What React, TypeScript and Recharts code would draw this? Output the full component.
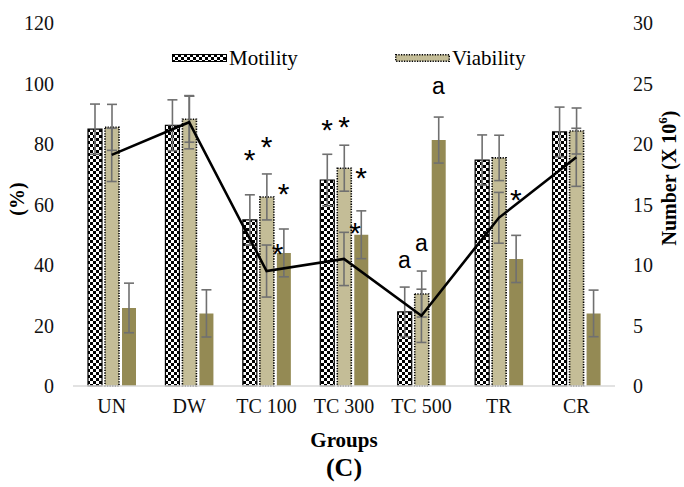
import React from 'react';
import { ComposedChart, Bar, Line, XAxis, YAxis, ErrorBar, ReferenceDot } from 'recharts';

const groups = ['UN', 'DW', 'TC 100', 'TC 300', 'TC 500', 'TR', 'CR'];
const motility = [84.9, 86.2, 54.9, 68.1, 24.5, 74.7, 84.0];
const motilityErr = [8.3, 8.4, 8.3, 8.5, 8.2, 8.3, 8.2];
const viability = [85.5, 88.2, 62.5, 72.0, 30.4, 75.4, 84.3];
const viabilityErr = [7.6, 7.6, 7.6, 7.6, 7.6, 7.5, 7.6];
const abnormal = [25.8, 24.0, 44.0, 50.0, 81.3, 42.0, 24.0];
const abnormalErr = [8.2, 7.8, 7.9, 7.9, 7.6, 7.8, 7.7];
const countNumber = [19.1, 21.8, 9.5, 10.5, 5.8, 13.9, 18.9];
const countErr = [2.2, 2.2, 2.15, 2.2, 2.2, 2.1, 2.4];

const leftTicks = [0, 20, 40, 60, 80, 100, 120];
const rightTicks = [0, 5, 10, 15, 20, 25, 30];

// significance marks: text and the value (left axis) where they sit
const motilityMark = ['', '', '*', '*', 'a', '', ''];
const motilityMarkAt = [0, 0, 77, 87, 41, 0, 0];
const viabilityMark = ['', '', '*', '*', 'a', '', ''];
const viabilityMarkAt = [0, 0, 81.3, 88, 46.6, 0, 0];
const abnormalMark = ['', '', '*', '*', 'a', '*', ''];
const abnormalMarkAt = [0, 0, 65.8, 71, 98.5, 63.8, 0];
const countMark = ['', '', '*', '*', '', '', ''];
const countMarkAt = [0, 0, 46, 53, 0, 0, 0];

const data = groups.map((g, i) => ({
  group: g,
  motility: motility[i],
  motilityErr: motilityErr[i],
  viability: viability[i],
  viabilityErr: viabilityErr[i],
  abnormal: abnormal[i],
  abnormalErr: abnormalErr[i],
  count: countNumber[i],
  countErr: countErr[i],
}));

const SERIF = "'Liberation Serif', 'Times New Roman', serif";
const SANS = "'Liberation Sans', Arial, sans-serif";
const ERR = '#707070';
const TAN = '#C4BD97';
const OLIVE = '#948A54';

const BAR = 14;
const GAP = 3;
const STEP = BAR + GAP;

function markShape(text: string, dx: number) {
  return (props: any) => {
    const { cx, cy } = props;
    const isStar = text === '*';
    const fs = isStar ? 30 : 23;
    const off = isStar ? 0.57 * fs : 0.26 * fs;
    return (
      <text x={cx + dx} y={cy + off} textAnchor="middle" fontFamily={SANS} fontSize={fs} fill="#000">
        {text}
      </text>
    );
  };
}

function marks(texts: string[], at: number[], dx: number, key: string) {
  return texts.map((t, i) =>
    t ? (
      <ReferenceDot
        key={key + i}
        xAxisId="x"
        yAxisId="left"
        x={groups[i]}
        y={at[i]}
        r={0}
        ifOverflow="visible"
        shape={markShape(t, dx)}
      />
    ) : null
  );
}

const tickStyle = { fontFamily: SERIF, fontSize: 20, fill: '#111' };
const legendText: React.CSSProperties = {
  position: 'absolute',
  top: 0,
  lineHeight: '28px',
  fontFamily: SERIF,
  fontSize: 21,
  color: '#000',
  whiteSpace: 'nowrap',
};

export default function App() {
  return (
    <div style={{ position: 'absolute', left: 0, top: 0, width: 684, height: 487, background: '#fff' }}>
      <svg width={0} height={0} style={{ position: 'absolute' }}>
        <defs>
          <pattern id="checker" width={6} height={6} patternUnits="userSpaceOnUse">
            <rect x={0} y={0} width={6} height={6} fill="#fff" />
            <rect x={0} y={0} width={3} height={3} fill="#000" />
            <rect x={3} y={3} width={3} height={3} fill="#000" />
          </pattern>
        </defs>
      </svg>
      <ComposedChart
        width={684}
        height={487}
        data={data}
        margin={{ top: 23, right: 0, bottom: 0, left: 0 }}
        barSize={BAR}
        barGap={GAP}
      >
        <XAxis
          xAxisId="x"
          dataKey="group"
          height={101}
          tickLine={false}
          tickSize={0}
          tickMargin={13}
          axisLine={{ stroke: '#D9D9D9', strokeWidth: 1.5 }}
          tick={tickStyle}
          interval={0}
          label={{
            content: () => (
              <g>
                <text x={344} y={447} textAnchor="middle" fontFamily={SERIF} fontWeight="bold" fontSize={21} fill="#000">
                  Groups
                </text>
                <text x={344} y={476} textAnchor="middle" fontFamily={SERIF} fontWeight="bold" fontSize={26} fill="#000">
                  (C)
                </text>
              </g>
            ),
          }}
        />
        <YAxis
          yAxisId="left"
          orientation="left"
          width={73}
          domain={[0, 120]}
          ticks={leftTicks}
          axisLine={false}
          tickLine={false}
          tickSize={0}
          tickMargin={19}
          tick={tickStyle}
          label={{
            content: () => (
              <text
                x={17}
                y={199}
                transform="rotate(-90 17 199)"
                textAnchor="middle"
                dominantBaseline="central"
                fontFamily={SERIF}
                fontWeight="bold"
                fontSize={20}
                fill="#000"
              >
                (%)
              </text>
            ),
          }}
        />
        <YAxis
          yAxisId="right"
          orientation="right"
          width={69}
          domain={[0, 30]}
          ticks={rightTicks}
          axisLine={false}
          tickLine={false}
          tickSize={0}
          tickMargin={18}
          tick={{ ...tickStyle, textAnchor: 'start' }}
          label={{
            content: () => (
              <text
                x={669}
                y={178}
                transform="rotate(-90 669 178)"
                textAnchor="middle"
                dominantBaseline="central"
                fontFamily={SERIF}
                fontWeight="bold"
                fontSize={20}
                fill="#000"
              >
                Number (X 10<tspan fontSize={13} dy={-7}>6</tspan>
                <tspan dy={7}>)</tspan>
              </text>
            ),
          }}
        />
        <Bar
          xAxisId="x"
          yAxisId="left"
          dataKey="motility"
          name="Motility"
          fill="url(#checker)"
          stroke="#000"
          strokeWidth={1.2}
          isAnimationActive={false}
        >
          <ErrorBar dataKey="motilityErr" width={5} stroke={ERR} strokeWidth={1.6} direction="y" />
        </Bar>
        <Bar
          xAxisId="x"
          yAxisId="left"
          dataKey="viability"
          name="Viability"
          fill={TAN}
          stroke="#000"
          strokeWidth={1.6}
          strokeDasharray="1.3 1.3"
          isAnimationActive={false}
        >
          <ErrorBar dataKey="viabilityErr" width={5} stroke={ERR} strokeWidth={1.6} direction="y" />
        </Bar>
        <Bar
          xAxisId="x"
          yAxisId="left"
          dataKey="abnormal"
          name="Abnormal"
          fill={OLIVE}
          isAnimationActive={false}
        >
          <ErrorBar dataKey="abnormalErr" width={5} stroke={ERR} strokeWidth={1.6} direction="y" />
        </Bar>
        <Line
          xAxisId="x"
          yAxisId="right"
          dataKey="count"
          name="Number"
          stroke="#000"
          strokeWidth={2.6}
          dot={false}
          type="linear"
          isAnimationActive={false}
        >
          <ErrorBar dataKey="countErr" width={5} stroke={ERR} strokeWidth={1.6} direction="y" />
        </Line>
        {marks(motilityMark, motilityMarkAt, -STEP, 'm')}
        {marks(viabilityMark, viabilityMarkAt, 0, 'v')}
        {marks(abnormalMark, abnormalMarkAt, STEP, 'ab')}
        {marks(countMark, countMarkAt, STEP - BAR / 2 + 1, 'c')}
      </ComposedChart>
      <div
        style={{
          position: 'absolute',
          left: 0,
          top: 44,
          width: 684,
          height: 28,
          pointerEvents: 'none',
        }}
      >
        <svg width={55} height={8} style={{ position: 'absolute', left: 172, top: 10 }}>
          <rect x={0.5} y={0.5} width={54} height={7} fill="url(#checker)" stroke="#000" strokeWidth={1} />
        </svg>
        <span style={{ ...legendText, left: 229 }}>Motility</span>
        <svg width={55} height={8} style={{ position: 'absolute', left: 395, top: 10 }}>
          <rect x={0.75} y={0.75} width={53.5} height={6.5} fill={TAN} stroke="#000" strokeWidth={1.5} strokeDasharray="1.3 1.3" />
        </svg>
        <span style={{ ...legendText, left: 452 }}>Viability</span>
      </div>
    </div>
  );
}
